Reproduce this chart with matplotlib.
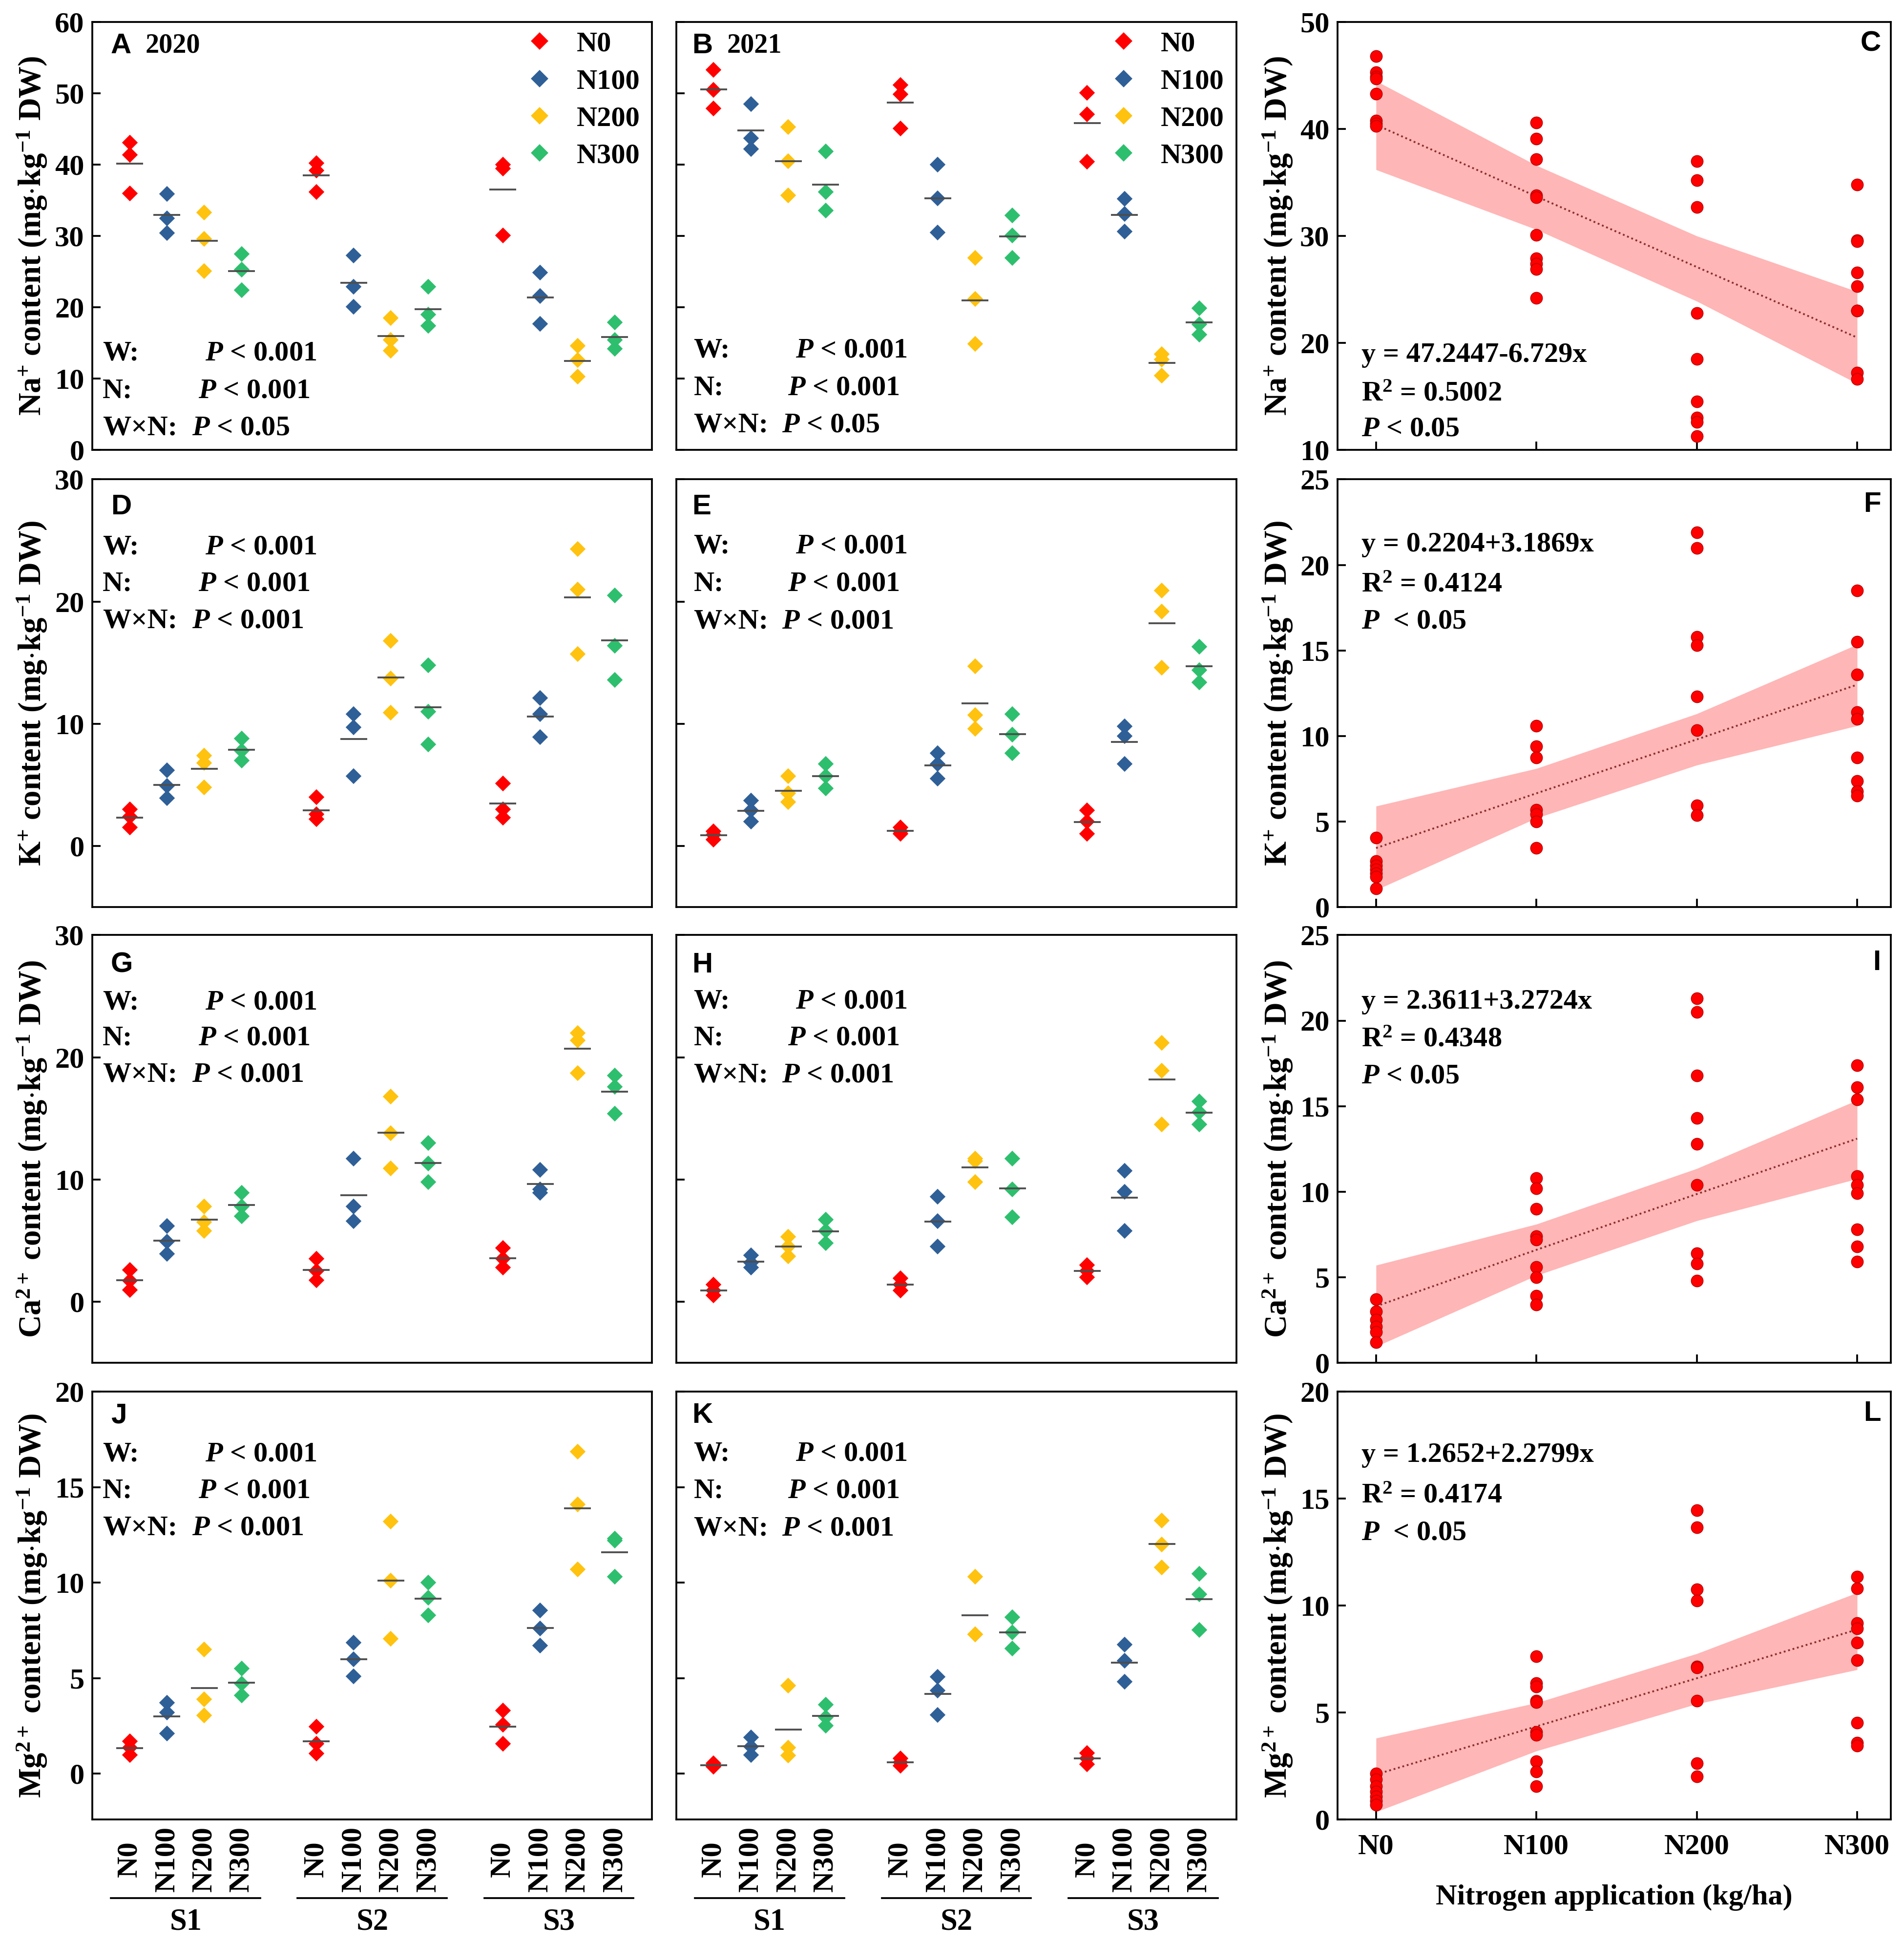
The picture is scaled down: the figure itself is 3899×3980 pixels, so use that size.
import numpy as np
import matplotlib
matplotlib.use("Agg")
import matplotlib.pyplot as plt
import matplotlib.transforms as mtransforms
from matplotlib.lines import Line2D

plt.rcParams["font.family"] = ["Liberation Serif", "DejaVu Serif"]
plt.rcParams["font.weight"] = "bold"
plt.rcParams["axes.labelweight"] = "bold"
plt.rcParams["mathtext.fontset"] = "custom"
plt.rcParams["mathtext.rm"] = "Liberation Serif:bold"
plt.rcParams["mathtext.bf"] = "Liberation Serif:bold"
plt.rcParams["mathtext.it"] = "Liberation Serif:italic:bold"

# treatments
n_levels = ["N0", "N100", "N200", "N300"]
salinity = ["S1", "S2", "S3"]
n_colors = ["#FF0000", "#2F5F97", "#FFC20E", "#2EBF6E"]

# replicate values, order: S1 N0..N300, S2 N0..N300, S3 N0..N300
na_2020 = [[43.1, 41.4, 36.0], [35.9, 32.5, 30.4], [33.3, 29.6, 25.1], [27.5, 25.3, 22.4],
           [40.2, 39.2, 36.2], [27.3, 22.9, 20.1], [18.5, 15.4, 13.9], [22.9, 19.0, 17.4],
           [40.0, 39.5, 30.1], [24.9, 21.6, 17.7], [14.6, 12.6, 10.3], [17.9, 15.4, 14.2]]
na_2021 = [[53.3, 50.5, 47.9], [48.5, 43.7, 42.2], [45.3, 40.5, 35.7], [41.9, 36.2, 33.6],
           [51.2, 49.9, 45.1], [40.0, 35.3, 30.5], [26.9, 21.2, 14.9], [32.9, 30.1, 26.9],
           [50.1, 47.1, 40.4], [35.2, 33.1, 30.6], [13.4, 12.7, 10.4], [19.9, 17.6, 16.2]]
k_2020 = [[3.0, 2.4, 1.5], [6.2, 4.9, 3.9], [7.4, 6.8, 4.8], [8.8, 7.8, 7.0],
          [4.0, 2.6, 2.2], [10.8, 9.7, 5.7], [16.8, 13.7, 10.9], [14.8, 11.0, 8.3],
          [5.1, 3.0, 2.3], [12.1, 10.8, 8.9], [24.3, 21.0, 15.7], [20.5, 16.4, 13.6]]
k_2021 = [[1.2, 0.9, 0.5], [3.7, 2.9, 2.0], [5.7, 4.3, 3.6], [6.7, 5.7, 4.7],
          [1.5, 1.2, 1.0], [7.6, 6.7, 5.5], [14.7, 10.7, 9.6], [10.8, 9.1, 7.6],
          [2.9, 2.0, 1.0], [9.8, 9.0, 6.7], [20.9, 19.2, 14.6], [16.3, 14.4, 13.4]]
ca_2020 = [[2.6, 1.7, 0.95], [6.2, 4.9, 3.9], [7.8, 6.5, 5.8], [8.9, 7.8, 7.0],
           [3.5, 2.5, 1.75], [11.7, 7.8, 6.6], [16.8, 13.8, 10.9], [13.0, 11.3, 9.8],
           [4.4, 3.5, 2.8], [10.8, 9.2, 8.9], [22.0, 21.4, 18.7], [18.5, 17.6, 15.4]]
ca_2021 = [[1.4, 0.9, 0.5], [3.8, 3.2, 2.8], [5.3, 4.5, 3.7], [6.7, 5.8, 4.8],
           [1.9, 1.4, 0.9], [8.6, 6.6, 4.5], [11.7, 11.5, 9.8], [11.7, 9.2, 6.9],
           [3.0, 2.5, 2.0], [10.7, 9.0, 5.8], [21.2, 18.9, 14.5], [16.4, 15.5, 14.5]]
mg_2020 = [[1.7, 1.35, 0.97], [3.7, 3.2, 2.1], [6.5, 3.9, 3.05], [5.5, 4.7, 4.1],
           [2.45, 1.55, 1.06], [6.85, 6.0, 5.1], [13.2, 10.1, 7.05], [10.0, 9.2, 8.3],
           [3.3, 2.55, 1.55], [8.55, 7.6, 6.7], [16.85, 14.1, 10.7], [12.3, 12.2, 10.3]]
mg_2021 = [[0.54, 0.44, 0.35], [1.9, 1.4, 0.98], [4.6, 1.35, 0.96], [3.6, 2.95, 2.5],
           [0.8, 0.6, 0.4], [5.07, 4.35, 3.08], [10.3, 7.3, 7.3], [8.2, 7.4, 6.55],
           [1.08, 0.79, 0.5], [6.76, 5.9, 4.8], [13.26, 12.0, 10.8], [10.46, 9.4, 7.53]]

# pooled points per N level for the regressions, with fitted line and 95% band
na_pooled = [[46.8, 45.3, 44.9, 44.7, 43.3, 40.8, 40.5, 40.3],
             [40.6, 39.1, 37.2, 33.8, 33.6, 30.1, 27.9, 27.4, 26.9, 24.2],
             [37.0, 35.2, 32.7, 22.8, 18.5, 14.5, 13.0, 12.6, 11.3],
             [34.8, 29.6, 29.5, 26.6, 25.3, 23.0, 23.0, 17.2, 16.6]]
na_fit = [40.4, 33.7, 27.1, 20.5]
na_lo = [36.2, 30.6, 23.9, 16.2]
na_hi = [44.5, 36.6, 30.0, 24.8]

k_pooled = [[4.07, 2.7, 2.44, 2.2, 1.97, 1.76, 1.09],
            [10.6, 9.4, 8.75, 5.67, 5.43, 5.0, 3.46],
            [21.9, 21.0, 15.8, 15.3, 12.3, 10.35, 5.94, 5.36],
            [18.5, 15.5, 13.6, 11.4, 11.0, 8.75, 7.36, 6.78, 6.5]]
k_fit = [3.45, 6.65, 9.8, 13.0]
k_lo = [1.0, 5.2, 8.3, 10.6]
k_hi = [5.9, 8.1, 11.3, 15.35]

ca_pooled = [[3.7, 3.0, 2.5, 2.1, 1.8, 1.2],
             [10.8, 10.2, 9.0, 7.4, 7.2, 5.6, 5.0, 3.9, 3.4],
             [21.3, 20.5, 16.8, 14.3, 12.8, 10.4, 6.4, 5.8, 4.8],
             [17.4, 16.1, 15.4, 10.9, 10.4, 9.9, 7.8, 6.8, 5.9]]
ca_fit = [3.3, 6.6, 9.86, 13.1]
ca_lo = [0.95, 5.1, 8.3, 10.75]
ca_hi = [5.7, 8.1, 11.35, 15.35]

mg_pooled = [[2.15, 1.86, 1.55, 1.29, 1.07, 0.86, 0.69],
             [7.62, 6.37, 6.2, 5.54, 5.47, 4.08, 3.96, 2.72, 2.24, 1.55],
             [14.46, 13.65, 10.76, 10.24, 7.14, 7.09, 5.54, 2.62, 2.01],
             [11.36, 10.79, 9.17, 8.92, 8.26, 7.44, 4.51, 3.58, 3.44]]
mg_fit = [2.1, 4.35, 6.6, 8.88]
mg_lo = [0.35, 3.2, 5.4, 7.0]
mg_hi = [3.8, 5.45, 7.75, 10.6]

ylabels = [r"Na$^{+}$ content (mg$\cdot$kg$^{-1}$ DW)",
           r"K$^{+}$ content (mg$\cdot$kg$^{-1}$ DW)",
           r"Ca$^{2+}$ content (mg$\cdot$kg$^{-1}$ DW)",
           r"Mg$^{2+}$ content (mg$\cdot$kg$^{-1}$ DW)"]
stats_pvals = [["< 0.001", "< 0.001", "< 0.05"],
               ["< 0.001", "< 0.001", "< 0.001"],
               ["< 0.001", "< 0.001", "< 0.001"],
               ["< 0.001", "< 0.001", "< 0.001"]]
equations = [["y = 47.2447-6.729x", r"R$^{2}$ = 0.5002", r"$P$ < 0.05"],
             ["y = 0.2204+3.1869x", r"R$^{2}$ = 0.4124", r"$P$  < 0.05"],
             ["y = 2.3611+3.2724x", r"R$^{2}$ = 0.4348", r"$P$ < 0.05"],
             ["y = 1.2652+2.2799x", r"R$^{2}$ = 0.4174", r"$P$  < 0.05"]]
letters = [["A", "B", "C"], ["D", "E", "F"], ["G", "H", "I"], ["J", "K", "L"]]
years = ["2020", "2021"]

year_data = [[na_2020, na_2021], [k_2020, k_2021], [ca_2020, ca_2021], [mg_2020, mg_2021]]
reg_data = [(na_pooled, na_fit, na_lo, na_hi), (k_pooled, k_fit, k_lo, k_hi),
            (ca_pooled, ca_fit, ca_lo, ca_hi), (mg_pooled, mg_fit, mg_lo, mg_hi)]

# layout
col_left = [0.0485, 0.3552, 0.7025]
col_w = [0.2940, 0.2942, 0.2906]
row_bottom = [0.7686, 0.5334, 0.2990, 0.0641]
row_h = 0.2200
ylim_year = [(0, 60), (-5, 30), (-5, 30), (-2.4, 20)]
yticks_year = [np.arange(0, 61, 10), [0, 10, 20, 30], [0, 10, 20, 30], [0, 5, 10, 15, 20]]
ylim_reg = [(10, 50), (0, 25), (0, 25), (0, 20)]
yticks_reg = [np.arange(10, 51, 10), np.arange(0, 26, 5), np.arange(0, 26, 5), np.arange(0, 21, 5)]
letter_y = [0.945, 0.936, 0.930, 0.944]
stats_y = [[[0.225, 0.138, 0.051], [0.232, 0.145, 0.058]],
           [[0.841, 0.756, 0.669], [0.843, 0.755, 0.668]],
           [[0.842, 0.759, 0.673], [0.844, 0.759, 0.672]],
           [[0.854, 0.768, 0.681], [0.855, 0.768, 0.680]]]
eq_y = [[0.221, 0.131, 0.048], [0.848, 0.753, 0.668], [0.844, 0.756, 0.670], [0.852, 0.757, 0.670]]

positions = [g * 5 + i for g in range(3) for i in range(4)]
FS = 14

fig = plt.figure(figsize=(3899 / 300, 3980 / 300), dpi=300)


def style_axes(ax):
    for sp in ax.spines.values():
        sp.set_linewidth(0.9)
    ax.tick_params(direction="in", length=4, width=0.9, labelsize=14.5, pad=4)


for r in range(4):
    # two year panels
    for c in range(2):
        ax = fig.add_axes([col_left[c], row_bottom[r], col_w[c], row_h])
        style_axes(ax)
        data = year_data[r][c]
        for g, vals in enumerate(data):
            p = positions[g]
            col = n_colors[g % 4]
            ax.plot([p] * len(vals), vals, "D", ms=5.0, color=col, mec=col, mew=0.4, zorder=3)
            ax.hlines(np.mean(vals), p - 0.36, p + 0.36, color="#4d4d4d", lw=0.9, zorder=4)
        ax.set_xlim(-1, 14)
        ax.set_ylim(*ylim_year[r])
        ax.set_yticks(yticks_year[r])
        ax.set_xticks([])
        if c == 0:
            ax.set_ylabel(ylabels[r], fontsize=15.5)
            ax.yaxis.set_label_coords(-0.078, 0.5)
            lab_x, p_x = 0.018, [0.201, 0.189, 0.178]
            let_x = 0.033
        else:
            ax.tick_params(labelleft=False)
            lab_x, p_x = 0.031, [0.213, 0.199, 0.188]
            let_x = 0.028
        ax.text(let_x, letter_y[r], letters[r][c], transform=ax.transAxes, fontsize=14,
                family="Liberation Sans", weight="bold", va="center", ha="left")
        if r == 0:
            ax.text(let_x + 0.062, letter_y[r], years[c], transform=ax.transAxes,
                    fontsize=13.5, va="center", ha="left")
            handles = [Line2D([], [], ls="none", marker="D", ms=5.0, color=col) for col in n_colors]
            ax.legend(handles, n_levels, loc="upper left", bbox_to_anchor=(0.748, 1.012),
                      frameon=False, fontsize=FS, handlelength=1.0, handletextpad=0.8,
                      labelspacing=0.4, borderaxespad=0.1)
        for lab, pv, px, y in zip(["W:", "N:", "W×N:"], stats_pvals[r], p_x, stats_y[r][c]):
            ax.text(lab_x, y, lab, transform=ax.transAxes, fontsize=FS, va="center", ha="left")
            ax.text(px, y, r"$P$ " + pv, transform=ax.transAxes, fontsize=FS, va="center", ha="left")
        if r == 3:
            trans = mtransforms.blended_transform_factory(ax.transData, ax.transAxes)
            for p, g in zip(positions, range(12)):
                ax.text(p, -0.093, n_levels[g % 4], transform=trans, rotation=90,
                        ha="center", va="center", fontsize=14.5)
            for g, s in enumerate(salinity):
                ax.plot([g * 5 - 0.5, g * 5 + 3.5], [-0.184, -0.184], transform=trans,
                        color="black", lw=0.9, clip_on=False)
                ax.text(g * 5 + 1.5, -0.241, s, transform=trans, ha="center", va="center",
                        fontsize=15)

    # regression panel
    ax = fig.add_axes([col_left[2], row_bottom[r], col_w[2], row_h])
    style_axes(ax)
    pts, fit, lo, hi = reg_data[r]
    xs = np.arange(1, 5)
    ax.fill_between(xs, lo, hi, color="#FFB6B6", lw=0, zorder=1)
    ax.plot(xs, fit, ls=(0, (1, 1.5)), color="#8B2E2E", lw=0.9, zorder=2)
    for x, vals in zip(xs, pts):
        ax.plot([x] * len(vals), vals, "o", ms=5.8, color="#FF0000", mec="#C00000",
                mew=0.4, zorder=3)
    ax.set_xlim(0.76, 4.21)
    ax.set_ylim(*ylim_reg[r])
    ax.set_yticks(yticks_reg[r])
    ax.set_xticks(xs)
    ax.set_ylabel(ylabels[r], fontsize=15.5)
    ax.yaxis.set_label_coords(-0.078, 0.5)
    ax.text(0.982, letter_y[r] + 0.005, letters[r][2], transform=ax.transAxes, fontsize=14,
            family="Liberation Sans", weight="bold", va="center", ha="right")
    for txt, y in zip(equations[r], eq_y[r]):
        ax.text(0.043, y, txt, transform=ax.transAxes, fontsize=FS, va="center", ha="left")
    if r == 3:
        ax.set_xticklabels(n_levels, fontsize=14.5)
        ax.tick_params(axis="x", pad=7)
        ax.set_xlabel("Nitrogen application (kg/ha)", fontsize=14.5, labelpad=12)
    else:
        ax.set_xticklabels([])

fig.savefig("out.png", dpi=300)
